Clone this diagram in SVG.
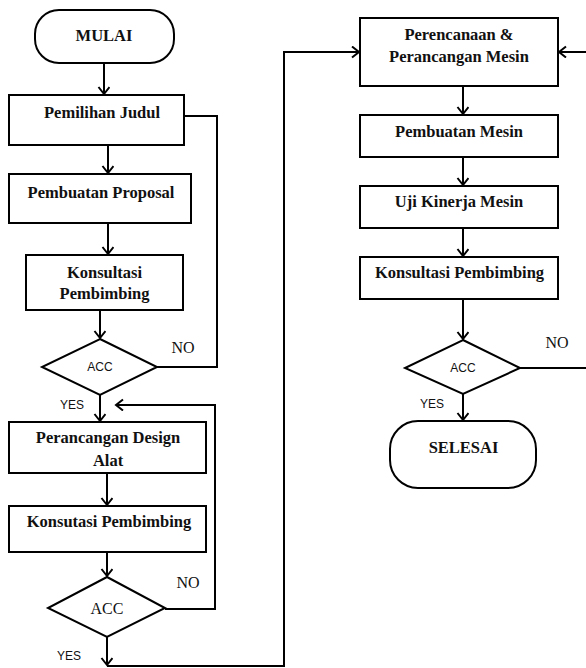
<svg xmlns="http://www.w3.org/2000/svg" width="586" height="668" viewBox="0 0 586 668">
<style>
.b{fill:#fff;stroke:#000;stroke-width:2}
.c{fill:none;stroke:#000;stroke-width:2}
.t{font-family:"Liberation Serif",serif;font-weight:bold;font-size:16.5px;text-anchor:middle;fill:#111}
.s{font-family:"Liberation Sans",sans-serif;font-size:12px;text-anchor:middle;fill:#111}
.r{font-family:"Liberation Serif",serif;font-size:16px;text-anchor:middle;fill:#111}
</style>
<defs>
<marker id="a" markerUnits="userSpaceOnUse" markerWidth="12" markerHeight="14" refX="8" refY="6" orient="auto">
<path d="M1,0.5 L8,6 L1,11.5" fill="none" stroke="#000" stroke-width="2"/>
</marker>
</defs>
<rect width="586" height="668" fill="#fff"/>
<g id="connectors">
<path class="c" d="M104,63 V94" marker-end="url(#a)"/>
<path class="c" d="M108,145 V173" marker-end="url(#a)"/>
<path class="c" d="M108,223 V254" marker-end="url(#a)"/>
<path class="c" d="M100,310 V338" marker-end="url(#a)"/>
<path class="c" d="M184,116 H217 V367 H157"/>
<path class="c" d="M100,395 V421" marker-end="url(#a)"/>
<path class="c" d="M165,609 H215 V405 H116" marker-end="url(#a)"/>
<path class="c" d="M107,473 V505" marker-end="url(#a)"/>
<path class="c" d="M107,552 V576" marker-end="url(#a)"/>
<path class="c" d="M107,637 V665" marker-end="url(#a)"/>
<path class="c" d="M107,666 H284 V52 H359" marker-end="url(#a)"/>
<path class="c" d="M463,86 V114" marker-end="url(#a)"/>
<path class="c" d="M463,157 V185" marker-end="url(#a)"/>
<path class="c" d="M463,228 V256" marker-end="url(#a)"/>
<path class="c" d="M463,299 V339" marker-end="url(#a)"/>
<path class="c" d="M463,394 V420" marker-end="url(#a)"/>
<path class="c" d="M520,368 H587"/>
<path class="c" d="M587,52 H559" marker-end="url(#a)"/>
<text class="s" x="72" y="409">YES</text>
<text class="r" x="183" y="353">NO</text>
<text class="s" x="69" y="660">YES</text>
<text class="r" x="188" y="588">NO</text>
<text class="s" x="432" y="408">YES</text>
<text class="r" x="557" y="348">NO</text>
</g>
<g id="mulai">
<rect class="b" x="35" y="10" width="139" height="53" rx="24" ry="24"/>
<text class="t" x="104" y="41">MULAI</text>
</g>
<g id="pemilihan">
<rect class="b" x="9" y="95" width="175" height="50"/>
<text class="t" x="102" y="118">Pemilihan Judul</text>
</g>
<g id="proposal">
<rect class="b" x="9" y="174" width="182" height="49"/>
<text class="t" x="101" y="198">Pembuatan Proposal</text>
</g>
<g id="konsultasi1">
<rect class="b" x="26" y="255" width="157" height="55"/>
<text class="t" x="104.5" y="278">Konsultasi</text>
<text class="t" x="104.5" y="299">Pembimbing</text>
</g>
<g id="acc1">
<polygon class="b" points="100,339 157,367 100,395 42,367"/>
<text class="s" x="100" y="371">ACC</text>
</g>
<g id="perancangan">
<rect class="b" x="9" y="422" width="197" height="51"/>
<text class="t" x="108" y="443">Perancangan Design</text>
<text class="t" x="108" y="466">Alat</text>
</g>
<g id="konsutasi2">
<rect class="b" x="9" y="506" width="197" height="46"/>
<text class="t" x="109" y="527">Konsutasi Pembimbing</text>
</g>
<g id="acc2">
<polygon class="b" points="107,577 165,608 107,637 48,608"/>
<text class="r" x="107" y="614">ACC</text>
</g>
<g id="perencanaan">
<rect class="b" x="360" y="18" width="198" height="68"/>
<text class="t" x="459" y="40">Perencanaan &amp;</text>
<text class="t" x="459" y="62">Perancangan Mesin</text>
</g>
<g id="pembuatan">
<rect class="b" x="360" y="115" width="198" height="42"/>
<text class="t" x="459" y="137">Pembuatan Mesin</text>
</g>
<g id="uji">
<rect class="b" x="360" y="186" width="198" height="42"/>
<text class="t" x="459" y="207">Uji Kinerja Mesin</text>
</g>
<g id="konsultasi3">
<rect class="b" x="360" y="257" width="198" height="42"/>
<text class="t" x="459.5" y="278">Konsultasi Pembimbing</text>
</g>
<g id="acc3">
<polygon class="b" points="463,340 520,368 463,394 405,368"/>
<text class="s" x="463" y="372">ACC</text>
</g>
<g id="selesai">
<rect class="b" x="390" y="421" width="146" height="67" rx="28" ry="28"/>
<text class="t" x="463.5" y="453">SELESAI</text>
</g>
</svg>
